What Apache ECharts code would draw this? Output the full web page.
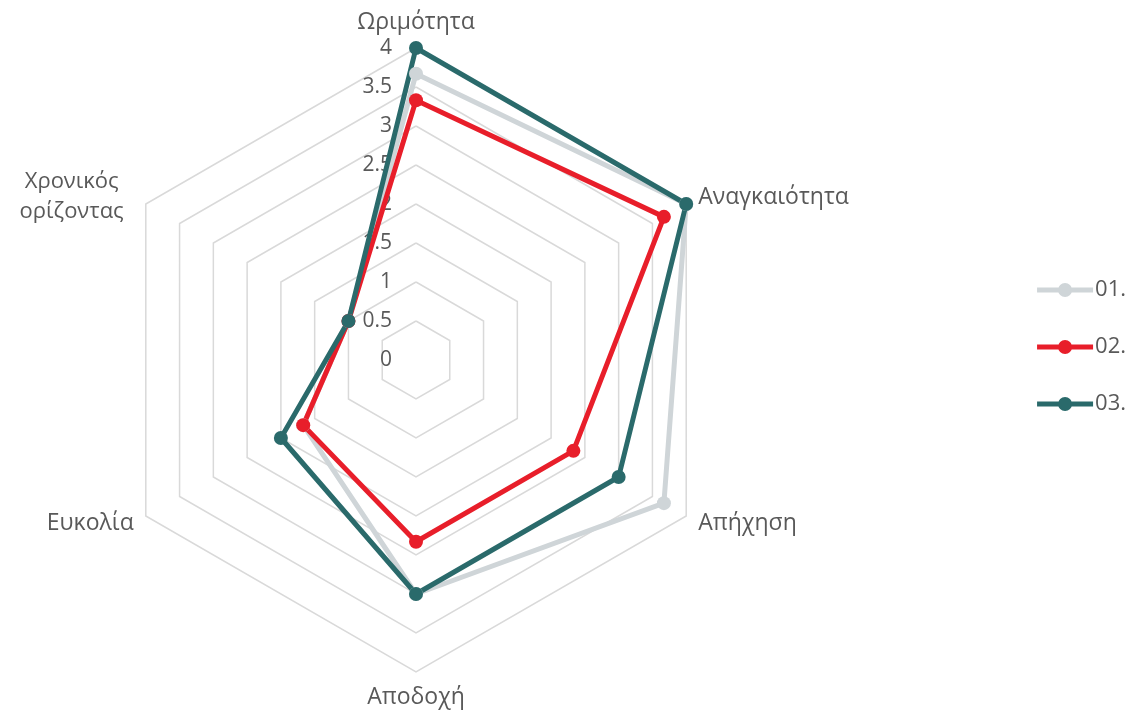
<!DOCTYPE html>
<html lang="el">
<head>
    <meta charset="UTF-8">
    <title>radar</title>
    <script src="https://cdn.jsdelivr.net/npm/echarts@6/dist/echarts.min.js"></script>
</head>
<body style="margin:0">
<div id="main" style="width:1144px;height:718px"></div>

<script>
    // δεδομένα (σειρά δεξιόστροφα από πάνω)
    var indicators = ['Ωριμότητα', 'Αναγκαιότητα', 'Απήχηση', 'Αποδοχή', 'Ευκολία', 'Χρονικός ορίζοντας'];
    var maxValue = 4;
    var names = ['01.', '02.', '03.'];
    var colors = ['#cfd5d8', '#e81e2a', '#2a6a6b'];
    var s01 = [3.67, 4, 3.67, 3, 1.67, 1];
    var s02 = [3.33, 3.67, 2.33, 2.33, 1.67, 1];
    var s03 = [4, 4, 3, 3, 2, 1];
    var values = [s01, s02, s03];

    // το radar της echarts πάει αριστερόστροφα, οπότε αντιστρέφω τη σειρά
    function order(arr) {
        var out = [arr[0]];
        for (var i = arr.length - 1; i > 0; i--) out.push(arr[i]);
        return out;
    }

    var myChart = echarts.init(document.getElementById('main'));

    var ind = [];
    var ordered = order(indicators);
    for (var i = 0; i < ordered.length; i++) {
        var o = {name: ordered[i], min: 0, max: maxValue};
        if (i === 0) {
            o.axisLabel = {show: true};
        }
        ind.push(o);
    }

    // εικονίδιο υπομνήματος: γραμμή με κύκλο
    var legendIcon = 'path://M0,4.5L21.46,4.5L21.46,9.5L0,9.5Z' +
        'M34.54,4.5L56,4.5L56,9.5L34.54,9.5Z' +
        'M21,7A7,7 0 1 1 35,7A7,7 0 1 1 21,7Z';

    var series = [];
    for (var k = 0; k < names.length; k++) {
        series.push({
            name: names[k],
            type: 'radar',
            symbol: 'circle',
            symbolSize: 14,
            itemStyle: {color: colors[k]},
            lineStyle: {color: colors[k], width: 5},
            data: [{value: order(values[k]), name: names[k]}]
        });
    }

    var option = {
        color: colors,
        textStyle: {fontFamily: 'Open Sans'},
        legend: {
            orient: 'vertical',
            right: 13,
            top: 274,
            itemGap: 35,
            itemWidth: 56,
            itemHeight: 14,
            icon: legendIcon,
            textStyle: {fontSize: 22, color: '#595959', padding: [0, 0, 0, -3]},
            data: names
        },
        radar: {
            center: [416, 360],
            radius: 312,
            startAngle: 90,
            splitNumber: 8,
            shape: 'polygon',
            indicator: ind,
            axisName: {
                color: '#595959',
                fontSize: 23,
                formatter: function (v) {
                    if (v === 'Χρονικός ορίζοντας') {
                        return '{c|Χρονικός}\n{c|ορίζοντας}';
                    }
                    return v;
                },
                rich: {
                    c: {width: 124, align: 'center', fontSize: 22, color: '#595959', lineHeight: 30, fontFamily: 'Open Sans'}
                }
            },
            nameGap: 14,
            axisLine: {show: false},
            axisTick: {show: false},
            axisLabel: {show: false, color: '#595959', fontSize: 21, margin: 24, fontFamily: 'Open Sans'},
            splitLine: {lineStyle: {color: '#d9d9d9', width: 1.5}},
            splitArea: {show: false}
        },
        series: series
    };

    myChart.setOption(option);
</script>
</body>
</html>
